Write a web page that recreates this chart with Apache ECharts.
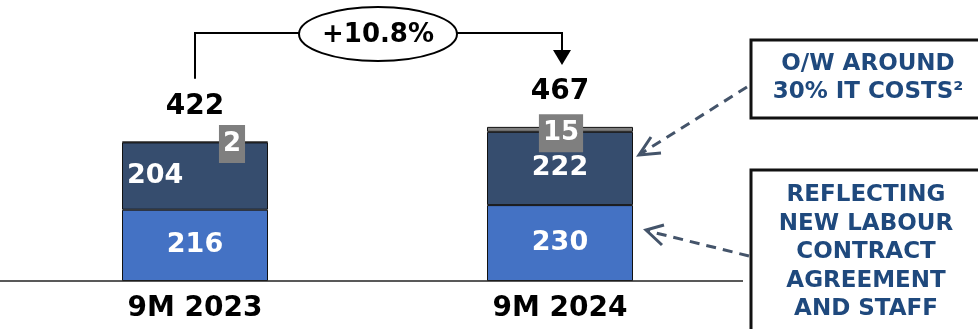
<!DOCTYPE html>
<html><head><meta charset="utf-8">
<script src="https://cdn.jsdelivr.net/npm/echarts@6/dist/echarts.min.js"></script>
<style>html,body{margin:0;padding:0;background:#fff}#c{width:978px;height:329px}</style>
</head><body><div id="c"></div>
<script>
const categories = ['9M 2023', '9M 2024'];
const staffCosts = [216, 230];
const otherCosts = [204, 222];
const extraCosts = [2, 15];
const totals = [422, 467];
const growthLabel = '+10.8%';
const note1 = ['O/W AROUND', '30% IT COSTS²'];
const note2 = ['REFLECTING', 'NEW LABOUR', 'CONTRACT', 'AGREEMENT', 'AND STAFF'];

const FONT = 'DejaVu Sans';
const chart = echarts.init(document.getElementById('c'), null, {renderer: 'canvas'});
const barBorder = {borderColor: '#111', borderWidth: 1};
chart.setOption({
  animation: false,
  grid: {left: 12.5, right: 235.5, top: 83, bottom: 48},
  xAxis: {
    type: 'category', data: categories,
    axisLine: {show: false}, axisTick: {show: false},
    axisLabel: {color: '#000', fontFamily: FONT, fontWeight: 'bold', fontSize: 28, margin: 14}
  },
  yAxis: {type: 'value', min: 0, max: 600, show: false, splitLine: {show: false}},
  series: [
    {type: 'bar', stack: 't', barWidth: 146, data: staffCosts,
     itemStyle: Object.assign({color: '#4472C4'}, barBorder),
     label: {show: true, position: 'inside', color: '#fff', fontFamily: FONT, fontWeight: 'bold', fontSize: 27}},
    {type: 'bar', stack: 't', barWidth: 146,
     data: otherCosts.map((v, i) => i === 0 ? {value: v, label: {position: 'insideLeft', distance: 5}} : v),
     itemStyle: Object.assign({color: '#364D6E'}, barBorder),
     label: {show: true, position: 'inside', color: '#fff', fontFamily: FONT, fontWeight: 'bold', fontSize: 27}},
    {type: 'bar', stack: 't', barWidth: 146,
     data: extraCosts.map((v, i) => ({value: v, label: {offset: i === 0 ? [37, 2] : [1, 4]}})),
     itemStyle: {color: '#7F7F7F', borderColor: '#111', borderWidth: 1},
     label: {show: true, position: 'inside', color: '#fff', fontFamily: FONT, fontWeight: 'bold', fontSize: 26,
             backgroundColor: '#7F7F7F', padding: [5, 4, 3, 4], lineHeight: 30}},
    {type: 'scatter', symbolSize: 0, data: totals, z: 10, itemStyle: {color: '#000'},
     label: {show: true, position: 'top', distance: 21, color: '#000', opacity: 1, textBorderWidth: 0,
             fontFamily: FONT, fontWeight: 'bold', fontSize: 28}}
  ]
});

function draw() {
  const p1 = chart.convertToPixel({seriesIndex: 3}, [0, totals[0]]);
  const p2 = chart.convertToPixel({seriesIndex: 3}, [1, totals[1]]);
  const base = chart.convertToPixel({seriesIndex: 0}, [0, 0])[1];
  const topY = 33, ecx = 378, rx = 79, ry = 27;
  const xL = p1[0], xR = p2[0] + 2;
  const tipY = p2[1] - 62;
  const dash = {stroke: '#44546A', lineWidth: 3, lineDash: [10, 7]};
  const solidArrow = {stroke: '#44546A', lineWidth: 3, fill: null};
  const g = [
    {type: 'line', shape: {x1: 0, y1: base, x2: 743, y2: base}, style: {stroke: '#222', lineWidth: 1.5}, z: 5},
    {type: 'polyline', shape: {points: [[xL, p1[1] - 63], [xL, topY], [ecx - rx, topY]]}, style: {stroke: '#000', lineWidth: 2, fill: null}},
    {type: 'polyline', shape: {points: [[ecx + rx, topY], [xR, topY], [xR, tipY - 12]]}, style: {stroke: '#000', lineWidth: 2, fill: null}},
    {type: 'polygon', shape: {points: [[xR - 9, tipY - 15], [xR + 9, tipY - 15], [xR, tipY]]}, style: {fill: '#000'}},
    {type: 'ellipse', shape: {cx: ecx, cy: topY + 1, rx: rx, ry: ry}, style: {fill: '#fff', stroke: '#000', lineWidth: 2}},
    {type: 'text', x: ecx, y: topY + 2, style: {text: growthLabel, font: 'bold 26px "' + FONT + '"', fill: '#000', align: 'center', verticalAlign: 'middle'}},
    // note boxes
    {type: 'rect', shape: {x: 751, y: 40, width: 240, height: 78}, style: {fill: '#fff', stroke: '#111', lineWidth: 3}},
    {type: 'rect', shape: {x: 751, y: 170, width: 240, height: 200}, style: {fill: '#fff', stroke: '#111', lineWidth: 3}},
    // dashed arrows
    {type: 'line', shape: {x1: 747, y1: 87, x2: 642, y2: 153}, style: dash},
    {type: 'polyline', shape: {points: [[661, 153], [639, 155], [651, 137]]}, style: solidArrow},
    {type: 'line', shape: {x1: 749, y1: 256, x2: 648, y2: 231}, style: dash},
    {type: 'polyline', shape: {points: [[664, 225], [646, 230], [662, 245]]}, style: solidArrow}
  ];
  note1.forEach((t, i) => g.push({type: 'text', x: 868, y: 64 + i * 28,
    style: {text: t, font: 'bold 23px "' + FONT + '"', fill: '#1F497D', align: 'center', verticalAlign: 'middle'}}));
  note2.forEach((t, i) => g.push({type: 'text', x: 866, y: 195 + i * 28.6,
    style: {text: t, font: 'bold 23px "' + FONT + '"', fill: '#1F497D', align: 'center', verticalAlign: 'middle'}}));
  chart.setOption({graphic: {elements: g}});
}
draw();
</script></body></html>
